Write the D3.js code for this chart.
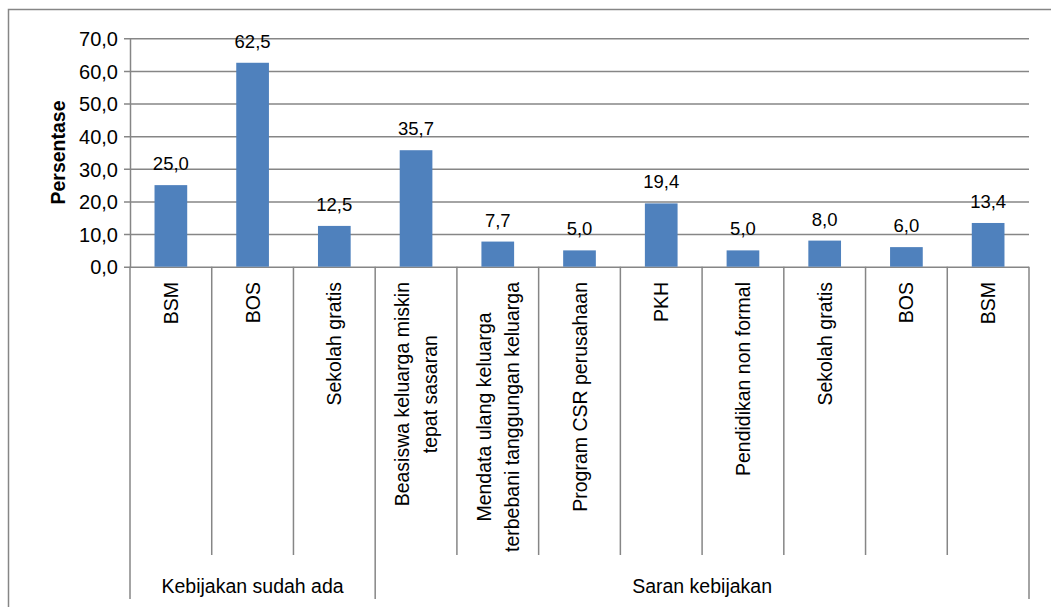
<!DOCTYPE html>
<html>
<head>
<meta charset="utf-8">
<script src="https://cdn.jsdelivr.net/npm/d3@7"></script>
<style>
  body { margin: 0; background: #fff; }
  svg { display: block; }
  text { font-family: "Liberation Sans", Arial, sans-serif; fill: #000; }
</style>
</head>
<body>
<svg id="chart" width="1051" height="607"></svg>
<script>
// Category labels (each entry is a list of wrapped lines)
const categoryLines = [
  ["BSM"],
  ["BOS"],
  ["Sekolah gratis"],
  ["Beasiswa keluarga miskin", "tepat sasaran"],
  ["Mendata ulang keluarga", "terbebani tanggungan keluarga"],
  ["Program CSR perusahaan"],
  ["PKH"],
  ["Pendidikan non formal"],
  ["Sekolah gratis"],
  ["BOS"],
  ["BSM"]
];
// Percentage per category
const values = [25.0, 62.5, 12.5, 35.7, 7.7, 5.0, 19.4, 5.0, 8.0, 6.0, 13.4];
// Outer category groups and how many categories each spans
const groupNames = ["Kebijakan sudah ada", "Saran kebijakan"];
const groupSizes = [3, 8];
// Value axis ticks
const yTicks = [0, 10, 20, 30, 40, 50, 60, 70];
const yTitle = "Persentase";

const svg = d3.select("#chart");
const gridColor = "#868686";
const barColor = "#4F81BD";

const plot = { left: 130, right: 1029, top: 38.3, bottom: 266.7 };

const x = d3.scaleBand()
  .domain(d3.range(values.length))
  .range([plot.left, plot.right])
  .paddingInner(0.6)
  .paddingOuter(0.3);
const step = x.step();

const y = d3.scaleLinear().domain([0, 70]).range([plot.bottom, plot.top]);

const fmt = d => d.toFixed(1).replace(".", ",");

// Chart frame
svg.append("rect")
  .attr("x", 8.5).attr("y", 9.5)
  .attr("width", 1200).attr("height", 800)
  .attr("fill", "none")
  .attr("stroke", gridColor)
  .attr("stroke-width", 1.5);

// Horizontal gridlines + value axis
const yAxis = d3.axisLeft(y)
  .tickValues(yTicks)
  .tickSize(-(plot.right - plot.left))
  .tickSizeOuter(0)
  .tickPadding(12)
  .tickFormat(fmt);

const yg = svg.append("g")
  .attr("transform", `translate(${plot.left},0)`)
  .call(yAxis);
yg.select(".domain").attr("stroke", gridColor).attr("stroke-width", 1.5);
yg.selectAll(".tick line")
  .attr("x1", -6)
  .attr("stroke", gridColor)
  .attr("stroke-width", 1.5);
yg.selectAll(".tick text")
  .attr("font-size", 20)
  .attr("font-family", "'Liberation Sans', Arial, sans-serif")
  .attr("fill", "#000")
  .attr("x", -12)
  .attr("dy", "0.36em");

// Bars
svg.append("g").selectAll("rect")
  .data(values)
  .join("rect")
  .attr("x", (d, i) => x(i))
  .attr("y", d => y(d))
  .attr("width", x.bandwidth())
  .attr("height", d => y(0) - y(d))
  .attr("fill", barColor);

// Value labels
svg.append("g").selectAll("text")
  .data(values)
  .join("text")
  .attr("x", (d, i) => x(i) + x.bandwidth() / 2)
  .attr("y", d => y(d) - 15)
  .attr("text-anchor", "middle")
  .attr("font-size", 18.5)
  .text(fmt);

// Category separators below the axis (longer at group boundaries)
const boundaries = new Set([0]);
let acc = 0;
groupSizes.forEach(s => { acc += s; boundaries.add(acc); });
svg.append("g").selectAll("line")
  .data(d3.range(values.length + 1))
  .join("line")
  .attr("x1", i => plot.left + i * step)
  .attr("x2", i => plot.left + i * step)
  .attr("y1", plot.bottom)
  .attr("y2", i => boundaries.has(i) ? 599 : 555)
  .attr("stroke", gridColor)
  .attr("stroke-width", 1.5);

// Rotated category labels
const lineGap = 28;
const labelTop = 282;
const catG = svg.append("g").selectAll("g")
  .data(categoryLines)
  .join("g")
  .attr("transform", (d, i) =>
    `translate(${x(i) + x.bandwidth() / 2},${labelTop}) rotate(-90)`);

catG.each(function (lines) {
  const g = d3.select(this);
  const n = lines.length;
  const texts = g.selectAll("text")
    .data(lines)
    .join("text")
    .attr("font-size", 19.5)
    .attr("text-anchor", "middle")
    .attr("y", (d, j) => (j - (n - 1) / 2) * lineGap + 7)
    .text(d => d);
  let maxLen = 0;
  texts.each(function () { maxLen = Math.max(maxLen, this.getComputedTextLength()); });
  texts.attr("x", -maxLen / 2);
});

// Group labels
let start = 0;
groupNames.forEach((name, k) => {
  const x0 = plot.left + start * step;
  const x1 = plot.left + (start + groupSizes[k]) * step;
  svg.append("text")
    .attr("x", (x0 + x1) / 2)
    .attr("y", 593)
    .attr("text-anchor", "middle")
    .attr("font-size", 19.5)
    .text(name);
  start += groupSizes[k];
});

// Value axis title
svg.append("text")
  .attr("transform", `translate(65,${(plot.top + plot.bottom) / 2}) rotate(-90)`)
  .attr("text-anchor", "middle")
  .attr("font-size", 19.5)
  .attr("font-weight", "bold")
  .text(yTitle);
</script>
</body>
</html>
